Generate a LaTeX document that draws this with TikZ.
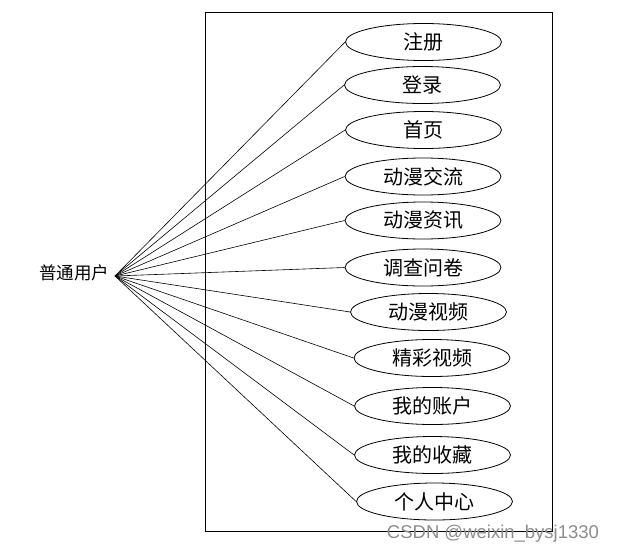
\documentclass[tikz,border=0pt]{standalone}
\usepackage{fontspec}
\newfontfamily\cjk{Noto Sans CJK SC}
\newfontfamily\wmfont{Liberation Sans}
\usetikzlibrary{shapes.geometric}

\begin{document}
\begin{tikzpicture}[
  x=1pt, y=-1pt,
  font=\cjk,
  usecase/.style={draw=black, line width=0.8pt, ellipse, inner sep=0pt,
                  minimum width=156pt, minimum height=37pt,
                  font=\cjk\fontsize{20}{20}\selectfont},
  link/.style={draw=black, line width=0.6pt}
]
\useasboundingbox (0,0) rectangle (617,554);

% system boundary
\draw[line width=0.8pt] (205,12) rectangle (552,531);

% actor
\node[font=\cjk\fontsize{17.5}{17.5}\selectfont, inner sep=0pt] (user) at (74,273) {普通用户};
\coordinate (hub) at (115,276);

% use cases
\node[usecase] (reg)   at (423.5,42)  {注册};
\node[usecase] (login) at (422.5,85)  {登录};
\node[usecase] (home)  at (423.5,130) {首页};
\node[usecase] (talk)  at (423,176.5) {动漫交流};
\node[usecase] (news)  at (423,220.5) {动漫资讯};
\node[usecase] (quest) at (423,267.5) {调查问卷};
\node[usecase] (video) at (428.5,312) {动漫视频};
\node[usecase] (best)  at (432,358)   {精彩视频};
\node[usecase] (acct)  at (432.5,406) {我的账户};
\node[usecase] (fav)   at (432.5,455) {我的收藏};
\node[usecase] (me)    at (434.5,501.5) {个人中心};

% associations
\foreach \uc in {reg, login, home, talk, news, quest, video, best, acct, fav, me}
  \draw[link] (hub) -- (\uc.west);

% watermark
\node[font=\wmfont\fontsize{18.5}{18.5}\selectfont, text=black!45, inner sep=0pt]
  (mark) at (493,534) {CSDN @weixin\_bysj1330};

\end{tikzpicture}
\end{document}
